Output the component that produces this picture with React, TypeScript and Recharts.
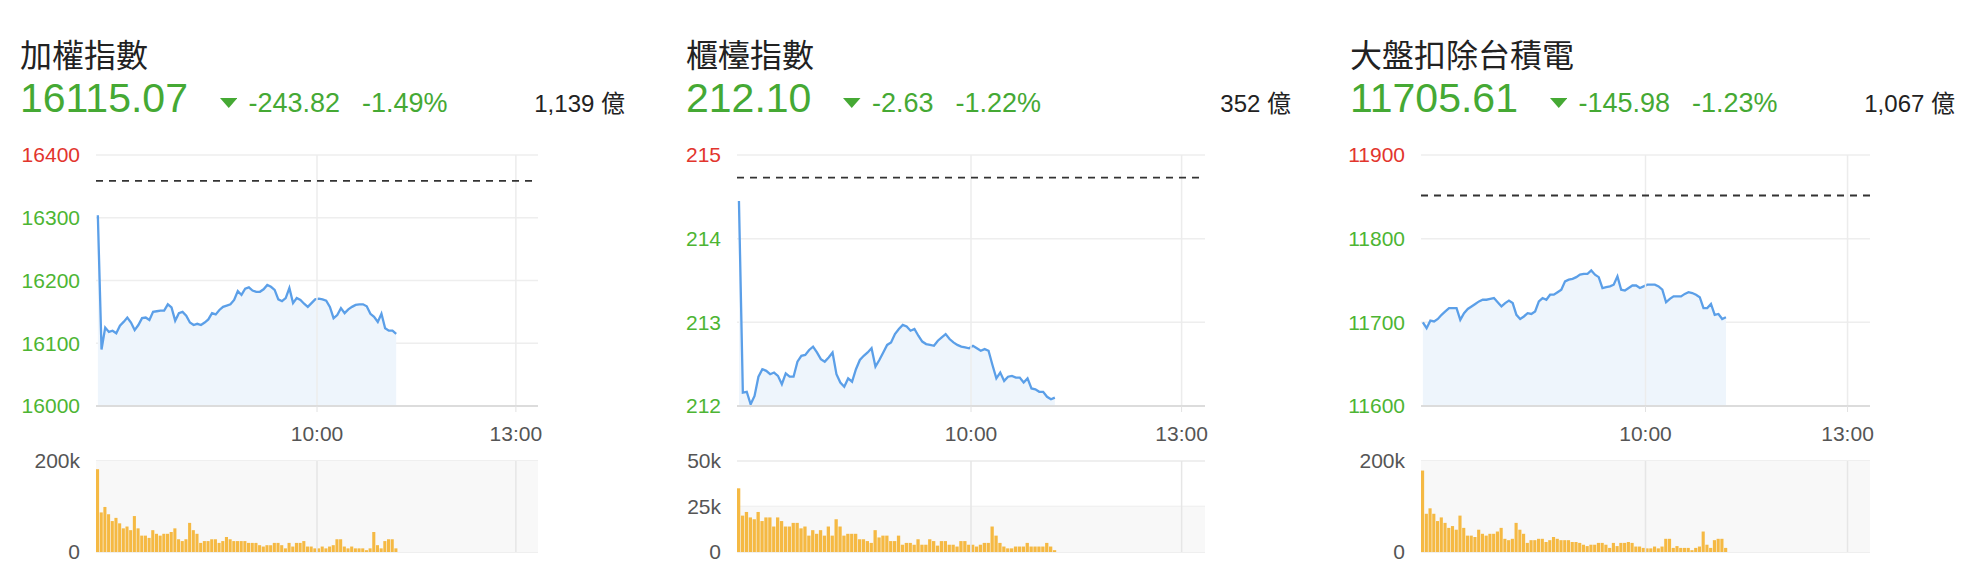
import React from 'react';
import {
  ComposedChart, Area, BarChart, Bar, XAxis, YAxis, CartesianGrid, ReferenceLine, ReferenceArea
} from 'recharts';

// trading session drawn as 120 columns: 10:00 sits at column 60, 13:00 at column 114
const SLOTS = 120;
const timeTicks = [60, 114];
const timeLabels = ['10:00', '13:00'];

const titles = ['加權指數', '櫃檯指數', '大盤扣除台積電'];
const lastPrices = ['16115.07', '212.10', '11705.61'];
const changes = ['-243.82', '-2.63', '-145.98'];
const changePcts = ['-1.49%', '-1.22%', '-1.23%'];
const turnovers = ['1,139 億', '352 億', '1,067 億'];
const prevCloses = [16358.89, 214.73, 11851.59];

const taiexTicks = [16000, 16100, 16200, 16300, 16400];
const taiexPctLabels = ['-2.19%', '-1.58%', '-0.97%', '-0.36%', '+0.25%'];
const otcTicks = [212, 213, 214, 215];
const otcPctLabels = ['-1.27%', '-0.81%', '-0.34%', '+0.13%'];
const exTsmcTicks = [11600, 11700, 11800, 11900];
const exTsmcPctLabels = ['-2.12%', '-1.28%', '-0.44%', '+0.41%'];

const taiexPrices = [
  16304, 16090, 16125, 16118, 16120, 16116, 16128, 16134, 16141, 16133,
  16121, 16129, 16140, 16141, 16137, 16150, 16151, 16152, 16152, 16162,
  16157, 16136, 16148, 16150, 16144, 16133, 16129, 16131, 16129, 16133,
  16138, 16148, 16146, 16153, 16158, 16160, 16162, 16169, 16183, 16177,
  16187, 16189, 16184, 16182, 16182, 16186, 16193, 16190, 16185, 16170,
  16167, 16172, 16188, 16164, 16172, 16169, 16163, 16158, 16164, 16170,
  16171, 16170, 16168, 16158, 16140, 16145, 16156, 16148, 16154, 16158,
  16161, 16162, 16162, 16159, 16147, 16142, 16134, 16147, 16124, 16120,
  16120, 16115,
];
const otcPrices = [
  214.45, 212.16, 212.17, 212.02, 212.12, 212.35, 212.44, 212.42, 212.38, 212.40,
  212.36, 212.26, 212.39, 212.35, 212.35, 212.53, 212.60, 212.61, 212.67, 212.71,
  212.64, 212.56, 212.53, 212.58, 212.64, 212.38, 212.28, 212.23, 212.33, 212.29,
  212.44, 212.55, 212.60, 212.64, 212.69, 212.47, 212.55, 212.64, 212.73, 212.76,
  212.86, 212.92, 212.97, 212.95, 212.90, 212.92, 212.84, 212.77, 212.74, 212.73,
  212.72, 212.78, 212.82, 212.86, 212.80, 212.76, 212.73, 212.71, 212.70, 212.69,
  212.72, 212.69, 212.66, 212.68, 212.66, 212.49, 212.33, 212.40, 212.30, 212.35,
  212.36, 212.34, 212.34, 212.28, 212.33, 212.21, 212.20, 212.17, 212.17, 212.11,
  212.08, 212.10,
];
const exTsmcPrices = [
  11700, 11693, 11702, 11701, 11704, 11709, 11713, 11717, 11717, 11717,
  11703, 11711, 11716, 11719, 11722, 11725, 11727, 11727, 11728, 11729,
  11724, 11719, 11723, 11726, 11723, 11709, 11704, 11707, 11711, 11710,
  11713, 11725, 11729, 11727, 11733, 11733, 11736, 11739, 11749, 11751,
  11752, 11754, 11757, 11758, 11758, 11762, 11757, 11754, 11741, 11742,
  11743, 11745, 11755, 11739, 11738, 11741, 11744, 11744, 11741, 11743,
  11745, 11745, 11745, 11743, 11739, 11724, 11728, 11731, 11731, 11731,
  11734, 11736, 11735, 11733, 11730, 11717, 11717, 11722, 11709, 11710,
  11704, 11706,
];

// volumes in thousands
const taiexVolumes = [
  182, 87, 99, 83, 68, 75, 63, 52, 56, 48, 79, 52,
  36, 36, 31, 48, 40, 36, 40, 40, 44, 52, 28, 24,
  28, 64, 48, 40,
  20, 24, 24, 28, 28, 20, 24, 33, 28, 24, 24, 24, 24, 20, 20, 20, 15, 12,
  15, 15, 20, 20, 15, 8, 20, 12, 20, 20, 24, 12, 12, 8,
  8, 12, 8, 12, 15, 28, 28, 12, 8, 12, 8, 8, 8, 4, 8, 44, 15, 8, 24, 28, 28, 8,
];
const otcVolumes = [
  35, 20, 22, 19, 18, 22, 17, 19, 19, 14,
  19, 17, 14, 14, 16, 16, 13, 14, 9, 12,
  10, 12, 9, 14, 9, 18, 14, 9, 10, 10,
  10, 7, 7, 6, 5, 12, 8, 9, 9, 6,
  6, 9, 4, 5, 5, 4, 7, 4, 4, 7,
  6, 3.5, 6, 6, 4, 4, 3, 6, 6, 4,
  4, 3, 4, 5, 5, 14, 9, 5, 3, 2,
  2, 3, 3, 3, 5, 3, 3, 3, 3, 5, 3, 1,
];
const exTsmcVolumes = [
  179, 84, 96, 84, 68, 76, 64, 53, 57, 49,
  80, 53, 36, 36, 33, 49, 40, 36, 40, 40,
  45, 53, 29, 26, 29, 64, 49, 40, 20, 26,
  26, 29, 29, 22, 26, 33, 29, 26, 26, 26,
  22, 22, 20, 16, 13, 16, 16, 20, 20, 16,
  9, 20, 13, 20, 20, 22, 20, 12, 12, 9,
  8, 8, 12, 8, 12, 29, 29, 9, 13, 9,
  9, 9, 4, 9, 12, 45, 16, 9, 26, 29, 29, 9,
];

const bigVolTicks = [0, 200];
const otcVolTicks = [0, 25, 50];

const GREEN = '#45a934';
const TICK_GREEN = '#4db533';
const RED = '#e2352d';
const LATIN = "'Liberation Sans', 'Noto Sans CJK TC', sans-serif";
const CJK = "'Noto Sans CJK TC', sans-serif";

interface PanelProps {
  idx: number;
  left: number;
  plotLeft: number;
  plotWidth: number;
  ticks: number[];
  pctLabels: string[];
  prices: number[];
  volumes: number[];
  volTicks: number[];
  volShadeTop: number;
}

const Panel: React.FC<PanelProps> = ({ idx, left, plotLeft, plotWidth, ticks, pctLabels, prices, volumes, volTicks, volShadeTop }) => {
  const prevClose = prevCloses[idx];
  const rows = prices.map((p, i) => ({ x: i + 0.5, price: p, vol: volumes[i] }));
  const chartLeft = plotLeft - 80;
  const chartWidth = 80 + plotWidth + 90;
  const slotPx = plotWidth / SLOTS;
  const domain: [number, number] = [ticks[0], ticks[ticks.length - 1]];

  const leftTick = (p: any) => (
    <text x={p.x} y={p.y} dy="0.355em" textAnchor="end" fontSize={21}
      fill={p.payload.value > prevClose ? RED : TICK_GREEN}>
      {p.payload.value}
    </text>
  );
  const rightTick = (p: any) => {
    const label = pctLabels[ticks.indexOf(p.payload.value)];
    return (
      <text x={p.x} y={p.y} dy="0.355em" textAnchor="start" fontSize={21}
        fill={label && label.startsWith('+') ? RED : TICK_GREEN}>
        {label}
      </text>
    );
  };

  return (
    <>
      <div style={{ position: 'absolute', left, top: 36.5, fontFamily: CJK, fontSize: 32, lineHeight: '32px', color: '#222', whiteSpace: 'nowrap' }}>
        {titles[idx]}
      </div>
      <div style={{ position: 'absolute', left, top: 78.3, height: 41, fontSize: 41, lineHeight: 1, whiteSpace: 'nowrap', color: GREEN }}>
        <span>{lastPrices[idx]}</span>
        <svg width={17.5} height={10} style={{ marginLeft: 32, verticalAlign: '4px' }}>
          <polygon points="0,0 17.5,0 8.75,10" fill={GREEN} />
        </svg>
        <span style={{ fontSize: 27, marginLeft: 11 }}>{changes[idx]}</span>
        <span style={{ fontSize: 27, marginLeft: 22 }}>{changePcts[idx]}</span>
      </div>
      <div style={{ position: 'absolute', left, top: 78.3, width: 605, height: 41, fontSize: 41, lineHeight: 1, textAlign: 'right', whiteSpace: 'nowrap', color: '#222' }}>
        <span style={{ fontSize: 24 }}>{turnovers[idx]}</span>
      </div>

      <div style={{ position: 'absolute', left: chartLeft, top: 135 }}>
        <ComposedChart width={chartWidth} height={311} data={rows} margin={{ top: 20, right: 0, bottom: 0, left: 0 }}>
          <CartesianGrid yAxisId="p" vertical={false} stroke="#eeeeee" strokeWidth={1.5} />
          {timeTicks.map((t) => (
            <ReferenceLine key={t} yAxisId="p" x={t} stroke="#ececec" strokeWidth={1.5} />
          ))}
          <XAxis dataKey="x" type="number" domain={[0, SLOTS]} ticks={timeTicks} interval={0}
            tickFormatter={(v) => timeLabels[timeTicks.indexOf(v)]}
            height={40} tickSize={6} tickMargin={14}
            axisLine={{ stroke: '#dcdcdc', strokeWidth: 2 }} tickLine={{ stroke: '#e2e2e2' }}
            tick={{ fill: '#555', fontSize: 21 }} />
          <YAxis yAxisId="p" orientation="left" width={80} domain={domain} ticks={ticks} interval={0}
            tickSize={0} tickMargin={16} axisLine={false} tickLine={false} tick={leftTick} />
          <YAxis yAxisId="pct" orientation="right" width={90} domain={domain} ticks={ticks} interval={0}
            tickSize={0} tickMargin={15} axisLine={false} tickLine={false} tick={rightTick} />
          <Area yAxisId="p" type="linear" dataKey="price" stroke="#5b9fe8" strokeWidth={2.3}
            fill="#eef5fc" fillOpacity={1} dot={false} activeDot={false} isAnimationActive={false} />
          <ReferenceLine yAxisId="p" y={prevClose} stroke="#333" strokeWidth={1.8} strokeDasharray="7 6" />
        </ComposedChart>
      </div>

      <div style={{ position: 'absolute', left: chartLeft, top: 441 }}>
        <BarChart width={chartWidth} height={121} data={rows} margin={{ top: 20, right: 90, bottom: 10, left: 0 }}>
          <ReferenceArea y1={0} y2={volShadeTop} fill="#f8f8f8" fillOpacity={1} stroke="none" />
          <CartesianGrid vertical={false} stroke="#eaeaea" strokeWidth={1.5} />
          {timeTicks.map((t) => (
            <ReferenceLine key={t} x={t} stroke="#e6e6e6" strokeWidth={1.5} />
          ))}
          <XAxis dataKey="x" type="number" domain={[0, SLOTS]} hide />
          <YAxis width={80} domain={[volTicks[0], volTicks[volTicks.length - 1]]} ticks={volTicks} interval={0}
            tickFormatter={(v) => (v === 0 ? '0' : `${v}k`)}
            tickSize={0} tickMargin={16} axisLine={false} tickLine={false}
            tick={{ fill: '#555', fontSize: 21 }} />
          <Bar dataKey="vol" fill="#f5b943" barSize={slotPx - 0.6} isAnimationActive={false} />
        </BarChart>
      </div>
    </>
  );
};

export default function App() {
  return (
    <div style={{ position: 'absolute', left: 0, top: 0, width: 1980, height: 574, background: '#fff', fontFamily: LATIN, overflow: 'hidden' }}>
      <Panel idx={0} left={20} plotLeft={96} plotWidth={442} ticks={taiexTicks} pctLabels={taiexPctLabels}
        prices={taiexPrices} volumes={taiexVolumes} volTicks={bigVolTicks} volShadeTop={200} />
      <Panel idx={1} left={686} plotLeft={737} plotWidth={468} ticks={otcTicks} pctLabels={otcPctLabels}
        prices={otcPrices} volumes={otcVolumes} volTicks={otcVolTicks} volShadeTop={25} />
      <Panel idx={2} left={1350} plotLeft={1421} plotWidth={449} ticks={exTsmcTicks} pctLabels={exTsmcPctLabels}
        prices={exTsmcPrices} volumes={exTsmcVolumes} volTicks={bigVolTicks} volShadeTop={200} />
    </div>
  );
}
